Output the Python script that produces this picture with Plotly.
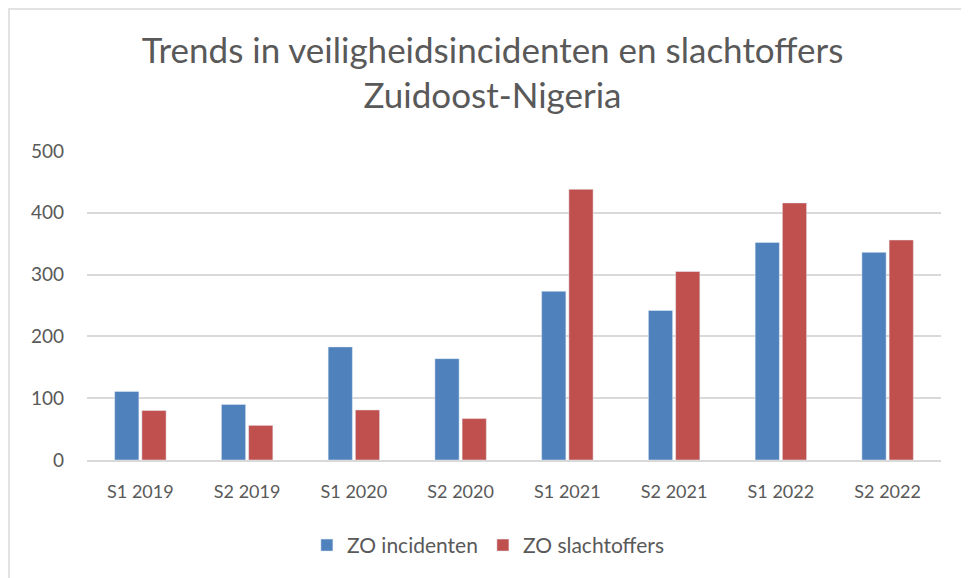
import plotly.graph_objects as go

periods = ["S1 2019", "S2 2019", "S1 2020", "S2 2020", "S1 2021", "S2 2021", "S1 2022", "S2 2022"]
incidenten = [111, 90, 183, 164, 273, 242, 352, 336]
slachtoffers = [80, 56, 81, 67, 438, 305, 416, 356]

font_family = "Lato, 'Open Sans', sans-serif"
grey_text = "#595959"

fig = go.Figure()

fig.add_bar(
    x=periods,
    y=incidenten,
    name="ZO incidenten",
    marker_color="#4f81bd",
)
fig.add_bar(
    x=periods,
    y=slachtoffers,
    name="ZO slachtoffers",
    marker_color="#c0504d",
)

# light frame round the chart (only top and left are visible in the picture)
fig.add_shape(
    type="rect",
    xref="paper", yref="paper",
    x0=-0.0913, x1=1.1, y0=-0.5, y1=1.4595,
    line=dict(color="#d9d9d9", width=1.5),
    fillcolor="rgba(0,0,0,0)",
    layer="below",
)

fig.update_layout(
    width=969,
    height=578,
    paper_bgcolor="white",
    plot_bgcolor="white",
    font=dict(family=font_family, color=grey_text),
    title={
        "text": "Trends in veiligheidsincidenten en slachtoffers<br>Zuidoost-Nigeria",
        "x": 0.5,
        "xanchor": "center",
        "y": 0.905,
        "yanchor": "top",
        "font": dict(size=35, color=grey_text),
    },
    barmode="group",
    bargap=0.49,
    bargroupgap=0.11,
    margin=dict(l=79, r=36, t=143, b=126),
    legend=dict(
        orientation="h",
        x=0.47,
        xanchor="center",
        y=-0.21,
        yanchor="top",
        font=dict(size=21, color=grey_text),
        itemwidth=30,
        traceorder="normal",
    ),
    showlegend=True,
)

fig.update_yaxes(
    range=[0, 500],
    tickvals=[0, 100, 200, 300, 400, 500],
    showgrid=True,
    gridcolor="#d9d9d9",
    gridwidth=1.5,
    zeroline=False,
    showline=False,
    ticklabelstandoff=22,
    tickfont=dict(size=19, color=grey_text),
)

fig.update_xaxes(
    showgrid=False,
    showline=True,
    linecolor="#d9d9d9",
    linewidth=1.5,
    ticklabelstandoff=15,
    tickfont=dict(size=18, color=grey_text),
)

fig.write_html("out.html")
